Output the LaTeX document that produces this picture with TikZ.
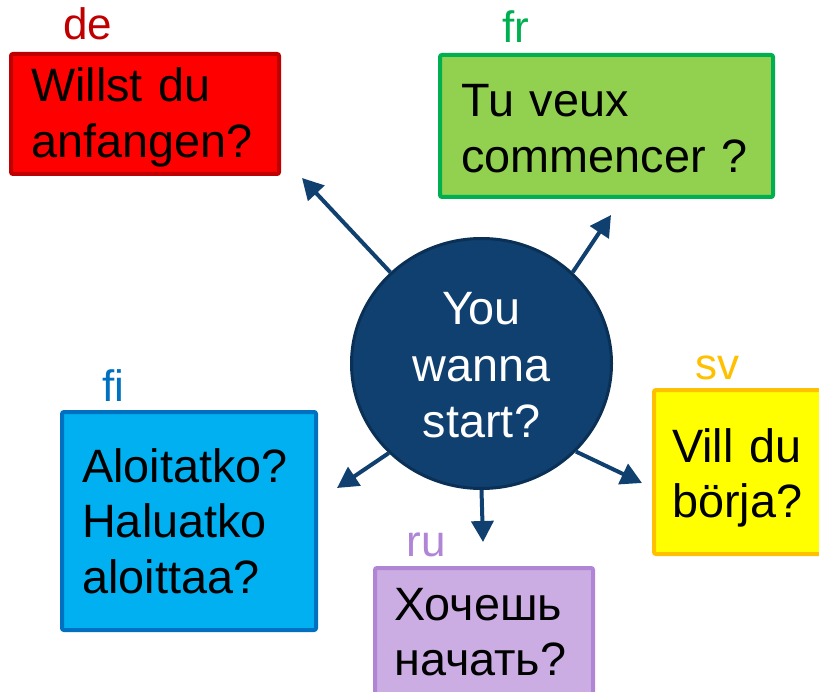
\documentclass[tikz,border=0pt]{standalone}
\usepackage{fontspec}
\setmainfont{Liberation Sans}
\usetikzlibrary{shapes.geometric,arrows.meta}
\definecolor{deFill}{HTML}{FF0000}
\definecolor{deLine}{HTML}{C00000}
\definecolor{frFill}{HTML}{92D050}
\definecolor{frLine}{HTML}{00B050}
\definecolor{svFill}{HTML}{FFFF00}
\definecolor{svLine}{HTML}{FFC000}
\definecolor{fiFill}{HTML}{00B0F0}
\definecolor{fiLine}{HTML}{0070C0}
\definecolor{ruFill}{HTML}{CCADE3}
\definecolor{ruLine}{HTML}{B085D6}
\definecolor{navy}{HTML}{10406F}
\definecolor{navyLine}{HTML}{0A3056}
\begin{document}
\begin{tikzpicture}[x=1pt,y=-1pt,
  box/.style={rectangle,line width=4pt,rounded corners=2pt,inner sep=0pt},
  txt/.style={anchor=base west,inner sep=0pt,text width=400pt,align=left,font=\fontsize{46.8}{55.5}\selectfont},
  lang/.style={anchor=base,inner sep=0pt,font=\fontsize{44}{50}\selectfont},
  arr/.style={draw=navy,line width=4pt,-{Triangle[length=21pt,width=22pt]}}]
\useasboundingbox (0,0) rectangle (819,692);
% boxes
\node[box,draw=deLine,fill=deFill,minimum width=268pt,minimum height=120pt] (deBox) at (145,114) {};
\node[box,draw=frLine,fill=frFill,minimum width=333pt,minimum height=142pt] (frBox) at (606.5,126) {};
\node[box,draw=svLine,fill=svFill,minimum width=176pt,minimum height=164pt] (svBox) at (742,472) {};
\node[box,draw=fiLine,fill=fiFill,minimum width=254pt,minimum height=218pt] (fiBox) at (189,521) {};
\node[box,draw=ruLine,fill=ruFill,minimum width=218pt,minimum height=142pt] (ruBox) at (484,639) {};
% box texts
\node[txt] (deText) at (31,102) {Willst du\\anfangen?};
\node[txt] (frText) at (461,117) {Tu veux\\commencer ?};
\node[txt] (svText) at (672,462) {Vill du\\börja?};
\node[txt] (fiText) at (82,482) {Aloitatko?\\Haluatko\\aloittaa?};
\node[txt] (ruText) at (394,620) {Хочешь\\начать?};
% language labels
\node[lang,text=deLine] (deLab) at (88,40) {de};
\node[lang,text=frLine] (frLab) at (516,43) {fr};
\node[lang,text=svLine] (svLab) at (717,380) {sv};
\node[lang,text=fiLine] (fiLab) at (113,402) {fi};
\node[lang,text=ruLine] (ruLab) at (426,556) {ru};
% centre
\node[ellipse,draw=navyLine,fill=navy,line width=3pt,minimum width=260pt,minimum height=250pt,inner sep=0pt] (c) at (481.5,363.5) {};
\node[anchor=base,inner sep=0pt,text width=260pt,align=center,text=white,font=\fontsize{46.8}{56.5}\selectfont] (cText) at (481.5,325) {You\\wanna\\start?};
% arrow ends
\coordinate (tde) at (302,178);
\coordinate (tfr) at (611,215);
\coordinate (tfi) at (337,488);
\coordinate (tsv) at (642,483);
\coordinate (tru) at (483,542);
\draw[arr] (c.135) -- (tde);
\draw[arr] (c.45) -- (tfr);
\draw[arr] (c.224) -- (tfi);
\draw[arr] (c.-43) -- (tsv);
\draw[arr] (c.-90) -- (tru);
\end{tikzpicture}
\end{document}
